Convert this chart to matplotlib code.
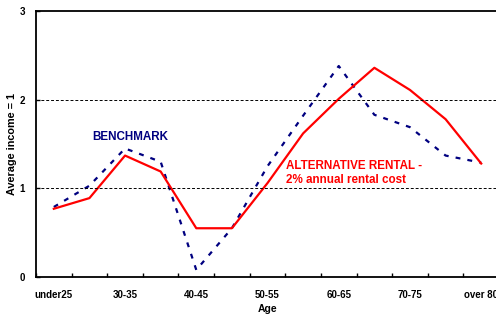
import numpy as np
import matplotlib.pyplot as plt

plt.rcParams['font.family'] = ['Liberation Sans', 'DejaVu Sans']

ages = ['under25', '25-30', '30-35', '35-40', '40-45', '45-50', '50-55',
        '55-60', '60-65', '65-70', '70-75', '75-80', 'over 80']
benchmark = [0.79, 1.03, 1.45, 1.30, 0.08, 0.55, 1.25, 1.82, 2.38, 1.83, 1.69, 1.37, 1.29]
rental = [0.77, 0.89, 1.37, 1.19, 0.55, 0.55, 1.06, 1.62, 2.01, 2.36, 2.11, 1.78, 1.28]

fig = plt.figure(figsize=(4.96, 3.16), dpi=100)
ax = fig.add_axes([0.0726, 0.1234, 0.9335, 0.8416])

x = np.arange(len(ages))
ax.plot(x, benchmark, color='#000080', linewidth=1.6, linestyle=(0, (2.2, 3.2)))
ax.plot(x, rental, color='#ff0000', linewidth=1.6)

ax.set_xlim(-0.5, len(ages) - 0.5)
ax.set_ylim(0, 3)
ax.set_yticks([0, 1, 2, 3])
ax.set_yticklabels(['0', '1', '2', '3'], fontsize=7, fontweight='bold')
ax.set_xticks(x[::2])
ax.set_xticklabels(ages[::2], fontsize=7, fontweight='bold')
ax.set_xticks(np.arange(len(ages) + 1) - 0.5, minor=True)
ax.tick_params(axis='x', which='major', length=0, pad=9)
ax.tick_params(axis='x', which='minor', length=3, width=1, direction='in')
ax.tick_params(axis='y', length=3, width=1, direction='in', pad=8)

for yv in [1, 2]:
    ax.axhline(yv, color='black', linewidth=0.7, linestyle=(0, (3, 2)))

for s in ['left', 'bottom', 'top']:
    ax.spines[s].set_linewidth(1.3)
ax.spines['right'].set_visible(False)

ax.set_xlabel('Age', fontsize=7.5, fontweight='bold', labelpad=3)
ax.set_ylabel('Average income = 1', fontsize=7.8, fontweight='bold', labelpad=2)

ax.text(1.07, 1.55, 'BENCHMARK', color='#000080', fontsize=8.4, fontweight='bold')
ax.text(6.53, 1.22, 'ALTERNATIVE RENTAL -', color='#ff0000', fontsize=8.4, fontweight='bold')
ax.text(6.53, 1.06, '2% annual rental cost', color='#ff0000', fontsize=8.4, fontweight='bold')

fig.savefig('out.png', dpi=100)
